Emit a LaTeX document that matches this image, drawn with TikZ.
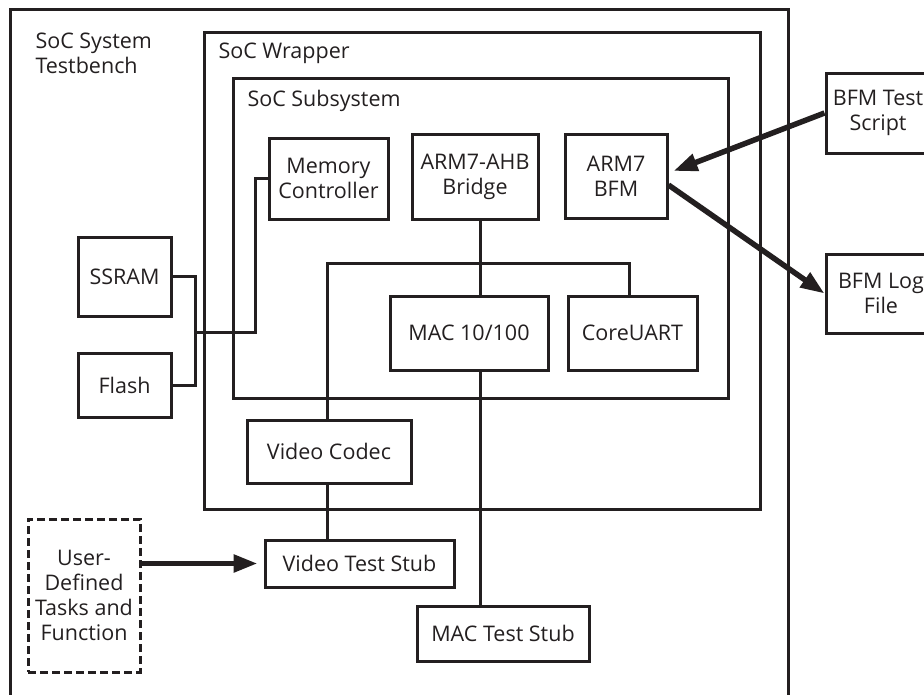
\documentclass[tikz,border=0pt]{standalone}
\usepackage{fontspec}
\setmainfont{Open Sans}
\usetikzlibrary{arrows.meta,positioning}
\definecolor{ink}{RGB}{35,31,32}

\begin{document}
\begin{tikzpicture}[
		x=1pt, y=-1pt,
		line width=3pt, color=ink,
		font=\fontsize{21.5}{25}\selectfont,
		block/.style={draw, inner sep=0pt, align=center},
		title/.style={inner sep=0pt, anchor=base west},
		userblock/.style={block, dash pattern=on 8pt off 4pt},
		bigarrow/.style={line width=5.5pt, -{Triangle[length=24pt,width=17pt]}},
	]
		\useasboundingbox (0,0) rectangle (924,694);

		% nested frames
		\draw (10,700) |- (788,9) -- (788,700);
		\draw (204,32) rectangle (760,509);
		\draw (233,78) rectangle (728,398);
		\node (sysname) [inner sep=0pt, anchor=north west, align=left] at (34,31) {SoC System\\Testbench};
		\node (wrapname) [title] at (217,58) {SoC Wrapper};
		\node (subname) [title] at (246,106) {SoC Subsystem};

		\node (memctl) [block, minimum width=119pt, minimum height=81pt] at (328.5,178.5) {Memory\\Controller};
		\node (bridge) [block, minimum width=126pt, minimum height=85pt] at (475,176.5) {ARM7-AHB\\Bridge};
		\node (armbfm) [block, minimum width=102pt, minimum height=84pt] at (616,176) {ARM7\\BFM};
		\node (mac) [block, minimum width=158pt, minimum height=74pt] at (469,333) {MAC 10/100};
		\node (uart) [block, minimum width=129pt, minimum height=74pt] at (632.5,333) {CoreUART};
		\node (codec) [block, minimum width=164pt, minimum height=63pt] at (329,451.5) {Video Codec};

		\node (ssram) [block, minimum width=93pt, minimum height=79pt] at (124.5,276.5) {SSRAM};
		\node (flash) [block, minimum width=93pt, minimum height=64pt] at (124.5,385) {Flash};
		\node (vstub) [block, minimum width=189pt, minimum height=47pt] at (359.5,563.5) {Video Test Stub};
		\node (macstub) [block, minimum width=172pt, minimum height=55pt] at (503,633.5) {MAC Test Stub};
		\node (userfn) [userblock, minimum width=112pt, minimum height=153pt] at (84,595.5) {User-\\Defined\\Tasks and\\Function};

		\node (script) [block, minimum width=104pt, minimum height=80pt] at (878,113) {BFM Test\\Script};
		\node (logfile) [block, minimum width=110pt, minimum height=79pt] at (881,293.5) {BFM Log\\File};

		% memory bus
		\coordinate (memjoin) at (195,332);
		\coordinate (membend) at (255,332);
		\draw (ssram.east) -| (memjoin) |- (flash.east);
		\draw (memjoin) -- (membend) |- (memctl.west);

		% AHB bus
		\coordinate (busleft) at (327,263);
		\coordinate (busright) at (629,263);
		\draw ([xshift=5pt]bridge.south) -- ([xshift=5pt]bridge.south |- mac.north);
		\draw (codec.north -| busleft) -- (busleft) -- (busright) -- (busright |- uart.north);
		\draw (codec.south -| busleft) -- (busleft |- vstub.north);
		\draw ([xshift=5pt]bridge.south |- mac.south) -- ([xshift=5pt]bridge.south |- macstub.north);

		% stimulus and logging
		\draw[bigarrow, shorten >=6pt] (userfn.east |- vstub.west) -- (vstub.west);
		\draw[bigarrow] (script.west) -- ([xshift=5pt, yshift=5pt]armbfm.east);
		\draw[bigarrow] ([yshift=-9pt]armbfm.east) -- (logfile.west);
	\end{tikzpicture}
\end{document}
